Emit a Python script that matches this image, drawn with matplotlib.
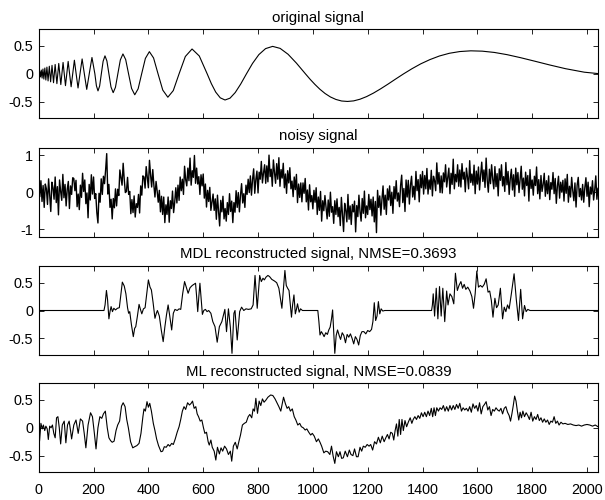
import numpy as np
import matplotlib.pyplot as plt

plt.rcParams['font.family'] = ['Liberation Sans', 'DejaVu Sans']
plt.rcParams['font.size'] = 10

# original (doppler) signal at extrema / zero crossings
orig_x = [0, 1.2, 3.8, 6.5, 9.3, 12.3, 15.4, 18.8, 22.3, 26.0, 29.9, 34.1, 38.6, 43.4, 48.5,
          54.0, 59.9, 66.3, 73.1, 80.6, 88.8, 97.6, 107.4, 112.6, 118.2, 124.0, 130.1, 136.5,
          143.4, 150.6, 158.3, 166.4, 175.1, 184.3, 194.2, 204.8, 210.4, 216.2, 222.2, 228.4,
          234.9, 241.7, 248.7, 256.0, 263.6, 271.6, 279.9, 288.6, 297.7, 307.2, 317.2, 327.7,
          338.7, 350.3, 362.6, 375.5, 389.1, 403.6, 418.9, 435.2, 452.5, 471.0, 490.8, 512.0,
          534.8, 559.3, 585.7, 614.4, 629.7, 645.6, 662.2, 679.6, 697.8, 716.8, 736.8, 757.8,
          779.8, 803.0, 827.5, 853.3, 880.6, 909.6, 940.2, 972.8, 989.9, 1007.5, 1025.7, 1044.5,
          1063.9, 1084.0, 1104.8, 1126.4, 1148.7, 1171.9, 1195.9, 1220.9, 1246.9, 1273.9, 1301.9,
          1331.2, 1361.7, 1393.5, 1426.8, 1461.5, 1497.9, 1536.0, 1576.0, 1617.9, 1662.0, 1708.5,
          1757.4, 1809.1, 1863.7, 1921.5, 1990.0, 2048.0]
orig_y = [0, -0.025, 0.043, -0.056, 0.067, -0.077, 0.086, -0.095, 0.104, -0.112, 0.120, -0.128,
          0.136, -0.144, 0.152, -0.160, 0.168, -0.177, 0.186, -0.194, 0.204, -0.213, 0.223, 0,
          -0.233, 0, 0.244, 0, -0.255, 0, 0.267, 0, -0.280, 0, 0.293, 0, -0.215, -0.307, -0.220,
          0, 0.225, 0.323, 0.231, 0, -0.237, -0.339, -0.243, 0, 0.249, 0.357, 0.256, 0, -0.263,
          -0.377, -0.270, 0, 0.277, 0.398, 0.285, 0, -0.293, -0.421, -0.302, 0, 0.311, 0.446,
          0.320, 0, -0.177, -0.329, -0.432, -0.471, -0.438, -0.337, -0.184, 0, 0.186, 0.345,
          0.453, 0.493, 0.457, 0.351, 0.191, 0, -0.098, -0.191, -0.278, -0.354, -0.416, -0.461,
          -0.489, -0.497, -0.487, -0.457, -0.410, -0.347, -0.271, -0.186, -0.094, 0, 0.092,
          0.179, 0.255, 0.320, 0.369, 0.400, 0.413, 0.407, 0.384, 0.344, 0.290, 0.227, 0.159,
          0.092, 0.029, 0]

# noisy signal, one value every 4 samples
noisy_y = [
    0.05, -0.12, 0.31, -0.25, 0.18, -0.41, 0.22, 0.09, -0.33, 0.36, -0.08, -0.52, 0.27, 0.12, -0.19, 0.41,
    -0.28, 0.15, -0.61, 0.33, 0.02, -0.22, 0.48, -0.15, 0.21, -0.37, 0.08, 0.29, -0.44, 0.17, -0.06, 0.39,
    0.37, 0.04, 0.32, -0.39, -0.05, -0.47, 0.19, -0.14, 0.51, 0.02, 0.33, -0.31, -0.02, -0.69, 0.21, -0.21,
    0.47, -0.05, 0.41, -0.17, -0.04, -0.55, -0.83, -0.03, -0.27, 0.36, -0.06, 0.43, 0.23, 0.60, 1.04, -0.05,
    0.21, -0.41, -0.19, -0.72, -0.17, -0.42, 0.09, -0.37, 0.08, -0.09, 0.60, 0.40, 0.19, 0.78, 0.34, -0.01,
    0.02, 0.40, -0.06, 0.02, -0.58, -0.20, -0.55, -0.10, -0.67, -0.31, -0.41, -0.06, -0.56, 0.17, -0.08, 0.44,
    0.41, 0.11, 0.69, 0.41, 0.12, 0.86, 0.47, 0.14, 0.61, 0.19, -0.13, 0.29, 0.03, -0.27, 0.05, -0.53,
    -0.11, -0.60, -0.13, -0.82, -0.34, -0.60, -0.13, -0.81, -0.23, -0.44, 0.03, -0.55, -0.27, 0.12, -0.29, 0.19,
    -0.22, 0.41, 0.04, 0.35, -0.06, 0.70, 0.34, 0.17, 0.65, 0.31, 0.92, 0.19, 0.58, 0.40, 0.99, 0.24,
    0.65, 0.22, 0.42, -0.06, 0.47, 0.17, 0.49, -0.16, 0.22, -0.40, 0.05, -0.25, 0.13, -0.49, -0.26, -0.05,
    -0.49, -0.18, -0.73, -0.08, -0.52, -0.91, -0.22, -0.53, -0.11, -0.72, -0.44, -0.78, -0.28, -0.60, -0.04, -0.52,
    -0.24, -0.82, -0.28, -0.54, 0.04, -0.41, -0.01, -0.53, -0.08, 0.23, -0.29, -0.04, -0.41, 0.19, -0.06, 0.35,
    -0.01, 0.44, -0.08, 0.34, 0.63, -0.03, 0.34, 0.57, -0.02, 0.54, 0.35, 0.83, 0.25, 0.52, 0.74, 0.24,
    0.71, 0.28, 1.00, 0.42, 0.62, 0.16, 0.87, 0.53, 0.24, 0.77, 0.35, 0.93, 0.16, 0.61, 0.38, 0.78,
    0.12, 0.49, -0.03, 0.58, 0.25, 0.66, 0.09, 0.30, -0.12, 0.41, 0.07, 0.48, -0.28, 0.22, -0.14, 0.25,
    -0.26, 0.25, -0.03, 0.37, -0.26, 0.06, -0.48, 0.20, -0.26, -0.09, -0.45, 0.05, -0.27, 0.12, -0.60, -0.13,
    -0.49, 0.02, -0.78, -0.23, -0.50, -0.09, -0.40, -0.72, -0.21, -0.65, 0.00, -0.54, -0.39, -0.84, -0.23, -0.60,
    -0.18, -0.66, -0.41, -0.90, -0.14, -0.58, -1.06, -0.30, -0.49, -0.80, -0.06, -0.73, -0.37, -0.87, -0.33, -0.53,
    -0.24, -1.07, -0.36, -0.66, -0.08, -0.53, -0.78, -0.17, -0.57, 0.03, -0.69, -0.37, -0.60, -0.06, -0.47, -0.19,
    -0.64, -0.13, -0.80, -0.25, -1.09, 0.05, -0.41, -0.10, -0.62, -0.19, 0.17, -0.46, -0.08, -0.60, 0.09, -0.21,
    0.17, -0.36, 0.00, -0.57, 0.15, -0.18, 0.31, -0.24, -0.02, -0.39, 0.18, 0.46, -0.28, 0.10, -0.52, 0.33,
    -0.13, 0.32, -0.32, 0.19, 0.43, -0.13, 0.16, -0.20, 0.56, 0.04, 0.34, -0.26, 0.47, 0.12, 0.56, -0.05,
    0.45, 0.09, 0.64, -0.05, 0.33, 0.08, 0.59, -0.10, 0.43, 0.31, 0.04, 0.79, 0.22, 0.53, -0.01, 0.44,
    -0.02, 0.52, 0.28, 0.74, 0.14, 0.39, 0.65, -0.04, 0.51, 0.21, 0.89, 0.09, 0.48, 0.28, 0.74, 0.16,
    0.60, 0.14, 0.77, 0.35, 0.54, 0.01, 0.65, 0.41, 0.09, 0.85, 0.26, 0.49, 0.19, 0.73, -0.04, 0.57,
    0.22, 0.68, 0.06, 0.47, 0.81, 0.29, 0.60, 0.13, 0.92, 0.32, 0.00, 0.62, 0.23, 0.74, 0.35, 0.09,
    0.69, 0.15, 0.50, -0.10, 0.63, 0.32, 0.74, 0.17, 0.42, 0.02, 0.80, 0.20, 0.56, -0.06, 0.36, 0.62,
    0.06, 0.47, -0.11, 0.65, 0.20, 0.53, -0.01, 0.35, 0.70, 0.08, 0.38, -0.10, 0.54, 0.18, 0.45, -0.24,
    0.61, 0.10, 0.33, -0.08, 0.43, 0.18, 0.68, -0.04, 0.34, -0.18, 0.45, 0.02, 0.21, 0.51, -0.11, 0.31,
    -0.04, 0.44, -0.20, 0.26, 0.08, 0.53, -0.04, 0.37, -0.30, 0.17, 0.43, -0.16, 0.27, 0.00, 0.32, -0.24,
    0.36, -0.03, 0.48, -0.27, 0.16, -0.13, 0.40, 0.04, -0.23, 0.25, -0.40, 0.19, 0.40, -0.12, 0.10, -0.21,
    0.21, -0.27, 0.12, 0.39, -0.11, 0.27, -0.39, 0.14, -0.05, 0.31, -0.21, 0.05, 0.44, -0.19, 0.11, -0.08,
]
noisy_x = np.arange(len(noisy_y)) * 4

# MDL reconstruction
mdl_x = [0, 238, 242, 247, 251, 256, 260, 264, 269, 274, 280, 287, 294, 300, 305, 312, 318, 324,
         328, 332, 338, 345, 350, 354, 360, 366, 371, 376, 382, 388, 394, 400, 406, 411, 417, 424,
         429, 433, 440, 447, 454, 460, 466, 472, 478, 485, 491, 497, 505, 512, 518, 525, 532, 538,
         545, 552, 560, 566, 572, 576, 580, 584, 588, 592, 597, 602, 608, 614, 620, 628, 635, 643,
         651, 659, 668, 679, 685, 692, 699, 705, 712, 716, 724, 733, 740, 748, 756, 765, 775, 782,
         789, 797, 806, 812, 818, 823, 829, 836, 842, 850, 860, 868, 876, 882, 887, 893, 898, 903,
         908, 913, 918, 922, 926, 931, 936, 940, 944, 950, 955, 962, 1018, 1022, 1026, 1031, 1036,
         1041, 1047, 1053, 1058, 1063, 1068, 1072, 1076, 1080, 1085, 1090, 1096, 1101, 1107, 1113,
         1119, 1125, 1131, 1137, 1143, 1149, 1155, 1161, 1167, 1173, 1179, 1186, 1193, 1200, 1207,
         1214, 1219, 1224, 1229, 1234, 1239, 1244, 1249, 1255, 1262, 1433, 1436, 1439, 1444, 1450,
         1456, 1462, 1468, 1474, 1481, 1488, 1493, 1500, 1507, 1514, 1520, 1527, 1533, 1540, 1546,
         1552, 1558, 1565, 1573, 1580, 1586, 1592, 1598, 1604, 1611, 1618, 1625, 1632, 1639, 1645,
         1651, 1657, 1664, 1670, 1676, 1684, 1692, 1698, 1704, 1710, 1716, 1724, 1734, 1742, 1750,
         1758, 1765, 1772, 1778, 1784, 1792, 2048]
mdl_y = [0, 0, 0.10, 0.36, 0.20, -0.15, -0.02, 0.07, -0.02, 0.04, 0.01, 0.04, 0.05, 0.30, 0.51,
         0.44, 0.30, 0.05, -0.05, -0.02, -0.25, -0.47, -0.32, -0.29, -0.10, 0.11, 0.02, -0.06, 0.03,
         0.05, 0.30, 0.55, 0.42, 0.37, 0.15, -0.14, -0.05, 0.00, -0.10, -0.35, -0.56, -0.30, -0.08,
         0.10, -0.10, -0.35, -0.05, 0.02, 0.00, 0.03, 0.02, 0.30, 0.52, 0.42, 0.31, 0.41, 0.45, 0.47,
         0.49, 0.25, -0.02, 0.25, 0.49, 0.25, -0.07, 0.00, 0.02, -0.02, 0.00, -0.05, -0.20, -0.29,
         -0.57, -0.29, -0.20, 0.02, -0.38, 0.03, -0.30, -0.77, -0.05, 0.00, -0.53, -0.02, 0.06, 0.00,
         0.03, 0.02, 0.03, 0.10, 0.63, 0.04, 0.63, 0.52, 0.58, 0.55, 0.60, 0.63, 0.61, 0.56, 0.53,
         0.50, 0.40, 0.20, 0.04, 0.40, 0.72, 0.45, 0.40, 0.36, 0.10, -0.12, 0.10, 0.28, -0.06, 0.02,
         0.12, -0.03, 0.03, 0.00, 0.00, -0.20, -0.44, -0.38, -0.42, -0.47, -0.40, -0.43, -0.35, -0.30,
         -0.15, 0.01, -0.40, -0.77, -0.45, -0.35, -0.45, -0.52, -0.40, -0.45, -0.58, -0.43, -0.48,
         -0.42, -0.50, -0.60, -0.47, -0.52, -0.62, -0.45, -0.38, -0.38, -0.42, -0.36, -0.38, -0.34,
         -0.20, 0.14, -0.18, -0.10, 0.16, -0.06, 0.03, -0.01, 0.00, 0.00, 0.10, 0.30, -0.10, 0.40,
         -0.15, 0.43, -0.10, 0.40, -0.20, 0.35, 0.10, 0.30, 0.25, 0.12, 0.67, 0.36, 0.45, 0.52, 0.40,
         0.47, 0.38, 0.42, 0.35, 0.25, 0.04, 0.30, 0.71, 0.42, 0.45, 0.42, 0.47, 0.57, 0.33, 0.35,
         0.18, -0.12, 0.22, 0.05, 0.10, 0.40, -0.15, 0.06, -0.02, 0.10, 0.03, 0.30, 0.66, 0.20, -0.18,
         0.38, -0.15, 0.09, -0.02, 0.02, 0.00, 0.00]

# ML reconstruction
ml_x = [0, 3, 8, 13, 17, 22, 26, 31, 35, 40, 45, 50, 55, 60, 65, 70, 75, 80, 86, 93, 99, 105, 111,
        116, 120, 128, 136, 144, 152, 160, 166, 172, 180, 189, 196, 203, 209, 216, 223, 230, 236,
        243, 250, 256, 262, 268, 275, 282, 288, 295, 302, 308, 315, 321, 327, 335, 343, 350, 358,
        366, 373, 380, 384, 389, 395, 400, 405, 411, 418, 424, 430, 437, 446, 452, 458, 465, 472,
        478, 485, 491, 498, 505, 512, 518, 524, 530, 536, 543, 550, 556, 561, 567, 573, 578, 583,
        589, 595, 601, 606, 612, 618, 622, 628, 633, 640, 646, 652, 659, 665, 671, 678, 685, 692,
        699, 704, 710, 717, 724, 730, 736, 743, 750, 757, 764, 770, 777, 782, 787, 792, 798, 804,
        810, 816, 822, 829, 836, 846, 854, 862, 869, 876, 883, 889, 893, 900, 906, 912, 918, 925,
        932, 938, 945, 952, 958, 965, 972, 978, 985, 992, 998, 1005, 1013, 1020, 1026, 1032, 1040,
        1047, 1054, 1062, 1068, 1074, 1080, 1086, 1093, 1099, 1105, 1111, 1118, 1126, 1133, 1139,
        1146, 1152, 1159, 1165, 1172, 1178, 1184, 1191, 1198, 1205, 1211, 1218, 1225, 1232, 1239,
        1246, 1253, 1260, 1266, 1272, 1278, 1284, 1290, 1295, 1300, 1305, 1310, 1315, 1320, 1325,
        1330, 1336, 1342, 1348, 1355, 1361, 1366, 1372, 1378, 1384, 1390, 1396, 1402, 1408, 1414,
        1420, 1426, 1432, 1437, 1442, 1447, 1452, 1458, 1464, 1470, 1476, 1482, 1488, 1494, 1500,
        1506, 1512, 1518, 1524, 1530, 1536, 1542, 1548, 1554, 1560, 1566, 1572, 1578, 1584, 1590,
        1596, 1602, 1608, 1614, 1620, 1626, 1632, 1638, 1644, 1650, 1656, 1662, 1668, 1674, 1680,
        1686, 1692, 1698, 1704, 1710, 1716, 1721, 1726, 1731, 1736, 1741, 1746, 1751, 1756, 1761,
        1766, 1772, 1778, 1784, 1790, 1796, 1802, 1808, 1814, 1820, 1826, 1832, 1838, 1844, 1850,
        1856, 1862, 1868, 1874, 1880, 1886, 1892, 1898, 1905, 1912, 1920, 1930, 1940, 1950, 1960,
        1970, 1980, 1990, 2000, 2010, 2020, 2030, 2040, 2048]
ml_y = [0.05, -0.24, 0.08, -0.02, 0.05, -0.05, 0.03, -0.02, -0.21, 0.03, 0.00, 0.05, -0.10, -0.18,
        0.18, 0.20, 0.00, -0.29, 0.05, 0.12, -0.27, 0.05, 0.12, -0.05, -0.20, 0.05, 0.14, -0.10,
        0.16, 0.12, -0.10, -0.36, 0.05, 0.27, 0.20, -0.10, -0.38, 0.00, 0.20, 0.17, 0.25, 0.30,
        0.00, -0.18, -0.23, -0.26, -0.24, -0.05, 0.05, 0.12, 0.39, 0.45, 0.38, 0.15, 0.00, -0.25,
        -0.36, -0.34, -0.32, -0.28, -0.10, 0.20, 0.34, 0.30, 0.47, 0.37, 0.44, 0.30, 0.08, -0.05,
        -0.20, -0.32, -0.43, -0.42, -0.34, -0.35, -0.30, -0.33, -0.28, -0.30, -0.20, -0.08, 0.02,
        0.15, 0.30, 0.38, 0.33, 0.45, 0.41, 0.44, 0.48, 0.35, 0.38, 0.25, 0.20, 0.12, 0.14, 0.00,
        -0.10, -0.08, -0.25, -0.31, -0.22, -0.35, -0.42, -0.58, -0.35, -0.47, -0.36, -0.42, -0.33,
        -0.38, -0.48, -0.42, -0.60, -0.33, -0.26, -0.38, -0.25, -0.13, 0.05, 0.08, 0.10, 0.20, 0.24,
        0.18, 0.34, 0.30, 0.53, 0.26, 0.48, 0.40, 0.52, 0.46, 0.50, 0.55, 0.59, 0.58, 0.52, 0.45,
        0.38, 0.30, 0.45, 0.55, 0.43, 0.35, 0.38, 0.30, 0.34, 0.20, 0.14, 0.05, 0.08, 0.02, 0.00,
        -0.04, -0.02, -0.08, -0.13, -0.10, -0.15, -0.25, -0.20, -0.26, -0.33, -0.45, -0.42, -0.43,
        -0.48, -0.33, -0.51, -0.64, -0.43, -0.52, -0.43, -0.55, -0.54, -0.42, -0.52, -0.40, -0.48,
        -0.50, -0.38, -0.52, -0.52, -0.35, -0.42, -0.33, -0.35, -0.30, -0.33, -0.30, -0.40, -0.25,
        -0.29, -0.17, -0.27, -0.15, -0.25, -0.18, -0.12, -0.20, -0.08, -0.10, -0.22, -0.05, 0.07,
        -0.15, 0.15, -0.12, 0.15, -0.05, 0.13, 0.02, 0.10, 0.18, 0.08, 0.15, 0.20, 0.15, 0.22, 0.17,
        0.27, 0.20, 0.28, 0.20, 0.30, 0.22, 0.35, 0.20, 0.36, 0.22, 0.36, 0.30, 0.36, 0.33, 0.40,
        0.30, 0.38, 0.30, 0.40, 0.32, 0.40, 0.33, 0.42, 0.35, 0.44, 0.30, 0.36, 0.32, 0.35, 0.30,
        0.38, 0.28, 0.43, 0.35, 0.40, 0.30, 0.45, 0.25, 0.38, 0.42, 0.47, 0.32, 0.38, 0.22, 0.33,
        0.30, 0.36, 0.32, 0.30, 0.35, 0.25, 0.35, 0.38, 0.28, 0.22, 0.12, 0.25, 0.40, 0.57, 0.48,
        0.30, 0.14, 0.28, 0.18, 0.30, 0.20, 0.27, 0.22, 0.15, 0.28, 0.12, 0.20, 0.15, 0.24, 0.13,
        0.18, 0.10, 0.16, 0.10, 0.14, 0.06, 0.12, 0.10, 0.20, 0.08, 0.12, 0.05, 0.10, 0.07, 0.08,
        0.06, 0.07, 0.05, 0.04, 0.05, 0.03, 0.05, 0.06, 0.05, 0.03, 0.05, 0.02, 0.00]

titles = ['original signal', 'noisy signal',
          'MDL reconstructed signal, NMSE=0.3693',
          'ML reconstructed signal, NMSE=0.0839']
series = [(orig_x, orig_y), (noisy_x, noisy_y), (mdl_x, mdl_y), (ml_x, ml_y)]
yticks = [[-0.5, 0, 0.5], [-1, 0, 1], [-0.5, 0, 0.5], [-0.5, 0, 0.5]]
ylims = [(-0.8, 0.8), (-1.2, 1.2), (-0.8, 0.8), (-0.8, 0.8)]
bottoms = [0.7634, 0.5266, 0.29, 0.0554]
widths = [0.8, 1.0, 0.8, 0.8]

fig = plt.figure(figsize=(6.05, 5.0), dpi=100)

for i in range(4):
    ax = fig.add_axes([0.064, bottoms[i], 0.9244, 0.178])
    x, y = series[i]
    ax.plot(x, y, color='black', lw=widths[i])
    ax.set_xlim(0, 2040)
    ax.set_ylim(*ylims[i])
    ax.set_xticks(range(0, 2001, 200))
    ax.set_yticks(yticks[i])
    ax.set_yticklabels(['%g' % v for v in yticks[i]])
    ax.tick_params(direction='in', top=True, right=True, length=3.5, width=0.6, labelsize=10.4)
    ax.tick_params(axis='y', pad=4)
    ax.tick_params(axis='x', pad=8)
    if i < 3:
        ax.set_xticklabels([])
    for s in ax.spines.values():
        s.set_linewidth(0.8)
    ax.set_title(titles[i], fontsize=10.8, pad=5.5)

fig.savefig('out.png', dpi=100)
